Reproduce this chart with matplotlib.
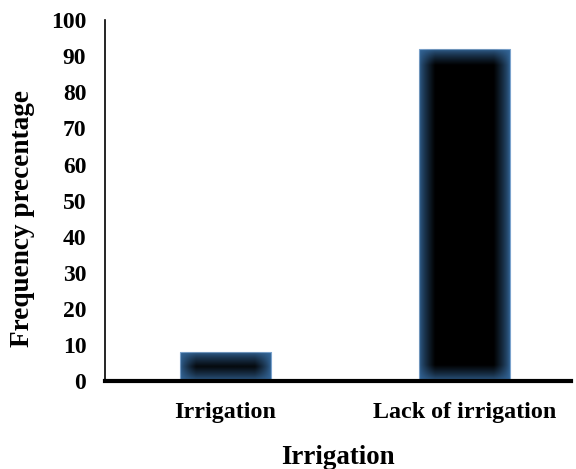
import numpy as np
import matplotlib
matplotlib.use("Agg")
import matplotlib.pyplot as plt
from matplotlib.colors import LinearSegmentedColormap

categories = ["Irrigation", "Lack of irrigation"]
values = [8, 92]
yticks = [0, 10, 20, 30, 40, 50, 60, 70, 80, 90, 100]

plt.rcParams['font.family'] = ['Liberation Serif', 'DejaVu Serif']
plt.rcParams['font.weight'] = 'bold'

fig = plt.figure(figsize=(5.76, 4.69), dpi=100)
ax = fig.add_axes([0.1823, 0.1876, 0.8087, 0.7694])

x = np.arange(len(categories))
bars = ax.bar(x, values, width=0.38, color='#34679a', edgecolor='#7aa2cc', linewidth=0.8, zorder=2)

ax.set_xlim(-0.504, 1.446)
ax.set_ylim(0, 100)
ax.set_yticks(yticks)
ax.set_xticks(x)
ax.set_xticklabels(categories, fontsize=17.3, fontweight='bold')
ax.tick_params(axis='both', length=0)
ax.tick_params(axis='y', labelsize=17, pad=13.5)
ax.tick_params(axis='x', pad=15)
for lbl in ax.get_yticklabels():
    lbl.set_fontweight('bold')

ax.spines['top'].set_visible(False)
ax.spines['right'].set_visible(False)
ax.spines['left'].set_linewidth(1.2)
ax.spines['bottom'].set_linewidth(3)
ax.spines['bottom'].set_zorder(5)

ax.set_xlabel("Irrigation", fontsize=19.4, fontweight='bold', labelpad=16)
ax.set_ylabel("Frequency precentage", fontsize=19.6, fontweight='bold')
ax.yaxis.set_label_coords(-0.15, 0.45)

# glow: black core fading to blue edge
fig.canvas.draw()
black_cmap = LinearSegmentedColormap.from_list('k', [(0, 0, 0, 0), (0, 0, 0, 1)])
glow_px = 16.0
for b in bars:
    x0, w, h = b.get_x(), b.get_width(), b.get_height()
    p0 = ax.transData.transform((x0, 0))
    p1 = ax.transData.transform((x0 + w, h))
    wpx = int(abs(p1[0] - p0[0])); hpx = int(abs(p1[1] - p0[1]))
    wpx = max(wpx, 2); hpx = max(hpx, 2)
    xx = np.arange(wpx) + 0.5
    yy = np.arange(hpx) + 0.5
    dx = np.minimum(xx, wpx - xx)
    dy = np.minimum(yy, hpx - yy)
    gx = np.clip(dx[None, :] / glow_px, 0, 1)
    gy = np.clip(dy[:, None] / glow_px, 0, 1)
    a = (gx * gy) ** 0.7
    ax.imshow(a, extent=(x0, x0 + w, 0, h), cmap=black_cmap, vmin=0, vmax=1,
              aspect='auto', interpolation='bilinear', zorder=3)

fig.savefig("out.png", dpi=100)
